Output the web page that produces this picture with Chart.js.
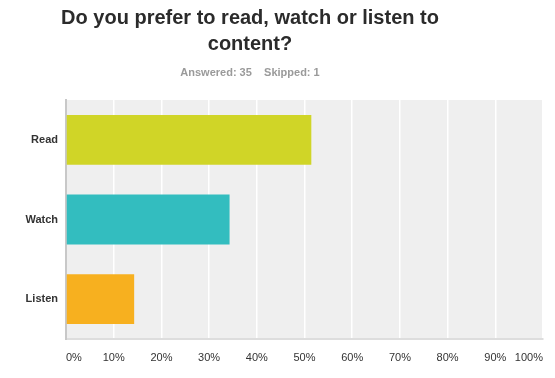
<!DOCTYPE html>
<html>
<head>
<meta charset="utf-8">
<script src="https://cdn.jsdelivr.net/npm/chart.js@4/dist/chart.umd.min.js"></script>
<style>
  html, body { margin: 0; padding: 0; background: #fff; }
  #wrap { width: 555px; height: 378px; position: relative; }
</style>
</head>
<body>
<div id="wrap"><canvas id="survey-chart" width="555" height="378"></canvas></div>
<script>
// --- Data ---
const TITLE_LINES = ['Do you prefer to read, watch or listen to', 'content?'];
const SUBTITLE = 'Answered: 35    Skipped: 1';
const choices = ['Read', 'Watch', 'Listen'];
const responsePercent = [51.43, 34.29, 14.29];
const barColors = ['#D0D527', '#33BDBF', '#F7B01F'];
const FONT = "'Liberation Sans', Arial, Helvetica, sans-serif";

// plot background + header text, centred like the survey export
const surveyDecor = {
    id: 'surveyDecor',
    beforeDraw(chart) {
        const { ctx, chartArea: a } = chart;
        ctx.save();
        ctx.fillStyle = '#EFEFEF';
        ctx.fillRect(a.left, a.top, a.right - a.left, a.bottom - a.top);
        ctx.restore();
    },
    afterDraw(chart) {
        const ctx = chart.ctx;
        const cx = 250;
        ctx.save();
        ctx.textAlign = 'center';
        ctx.textBaseline = 'alphabetic';
        ctx.fillStyle = '#2b2b2b';
        ctx.font = 'bold 20px ' + FONT;
        ctx.fillText(TITLE_LINES[0], cx, 24);
        ctx.fillText(TITLE_LINES[1], cx, 50);
        ctx.fillStyle = '#9a9a9a';
        ctx.font = 'bold 11px ' + FONT;
        ctx.fillText(SUBTITLE, cx, 76);
        ctx.restore();
    }
};

const ctx = document.getElementById('survey-chart').getContext('2d');
new Chart(ctx, {
    type: 'bar',
    data: {
        labels: choices,
        datasets: [{
            data: responsePercent,
            backgroundColor: barColors,
            borderWidth: 0,
            categoryPercentage: 1,
            barPercentage: 0.625
        }]
    },
    options: {
        indexAxis: 'y',
        responsive: false,
        animation: false,
        layout: { padding: { top: 100, right: 9, bottom: 0, left: 0 } },
        plugins: {
            legend: { display: false },
            tooltip: { enabled: false }
        },
        scales: {
            x: {
                min: 0,
                max: 100,
                ticks: {
                    stepSize: 10,
                    align: 'inner',
                    padding: 12,
                    color: '#333',
                    font: { family: FONT, size: 11 },
                    callback: v => v + '%'
                },
                grid: { color: '#ffffff', lineWidth: 1.5, drawTicks: false },
                border: { display: true, color: '#dddddd', width: 2 },
                afterFit: s => { s.height = 39; }
            },
            y: {
                ticks: {
                    padding: 8,
                    color: '#333',
                    font: { family: FONT, size: 11, weight: 'bold' }
                },
                grid: { display: false, drawTicks: false },
                border: { display: true, color: '#c8c8c8', width: 2 },
                afterFit: s => { s.width = 66; }
            }
        }
    },
    plugins: [surveyDecor]
});
</script>
</body>
</html>
